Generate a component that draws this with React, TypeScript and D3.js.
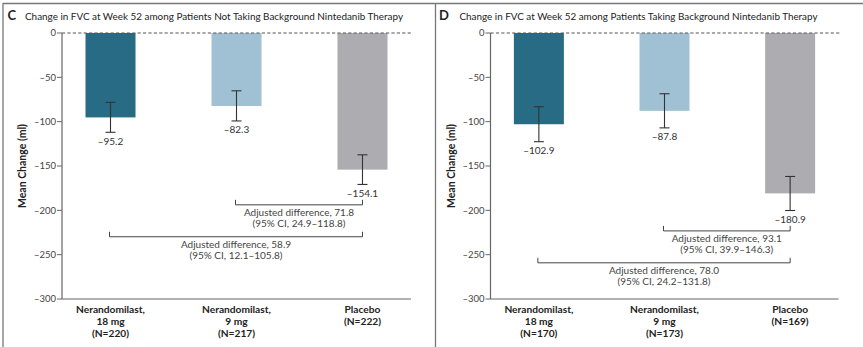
import React from "react";
import * as d3 from "d3";

// Treatment arms (shared by both panels)
const armNames = [["Nerandomilast,", "18 mg"], ["Nerandomilast,", "9 mg"], ["Placebo"]];
const armColors = ["#276b84", "#a0c1d3", "#adadb1"];

// Panel C: not taking background nintedanib
const nC = [220, 217, 222];
const meanC = [-95.2, -82.3, -154.1];
const ciLowC = [-112.0, -99.2, -170.8];
const ciHighC = [-78.2, -65.2, -137.4];
const diffC = [
  { from: 1, to: 2, est: "71.8", ci: "24.9–118.8" },
  { from: 0, to: 2, est: "58.9", ci: "12.1–105.8" },
];

// Panel D: taking background nintedanib
const nD = [170, 173, 169];
const meanD = [-102.9, -87.8, -180.9];
const ciLowD = [-122.6, -107.0, -200.2];
const ciHighD = [-83.2, -68.5, -161.8];
const diffD = [
  { from: 1, to: 2, est: "93.1", ci: "39.9–146.3" },
  { from: 0, to: 2, est: "78.0", ci: "24.2–131.8" },
];

const yTicks = [0, -50, -100, -150, -200, -250, -300];

const FONT = "Lato, 'Open Sans', 'Liberation Sans', sans-serif";
const dash = (v: number) => (v < 0 ? "–" + Math.abs(v) : String(v));
const fmt = (v: number) => (v < 0 ? "–" + Math.abs(v).toFixed(1) : v.toFixed(1));

type PanelProps = {
  letter: string;
  letterX: number;
  title: string;
  titleX: number;
  titleLen: number;
  x0: number;
  x1: number;
  n: number[];
  mean: number[];
  lo: number[];
  hi: number[];
  diffs: { from: number; to: number; est: string; ci: string }[];
};

function Panel({ letter, letterX, title, titleX, titleLen, x0, x1, n, mean, lo, hi, diffs }: PanelProps) {
  const y = d3.scaleLinear().domain([-300, 0]).range([299, 33]);
  const idx = mean.map((_, i) => String(i));
  const x = d3.scalePoint<string>().domain(idx).range([x0, x1]).padding(0.385);
  const barW = 50;
  const capW = 10;

  // bracket levels: first sits below the lower CI of the compared arms, second below that
  const firstLevel = Math.min(lo[diffs[0].from], lo[diffs[0].to]) - 23;
  const levels = [firstLevel, firstLevel - 36];

  return (
    <g fontFamily={FONT}>
      <text x={letterX} y={20} fontSize={13} fontWeight="bold" fill="#222">{letter}</text>
      <text x={titleX} y={20} fontSize={10.4} fill="#222" textLength={titleLen} lengthAdjust="spacingAndGlyphs">{title}</text>

      {/* bars */}
      {mean.map((m, i) => (
        <rect key={"b" + i} x={x(String(i))! - barW / 2} y={y(0)} width={barW} height={y(m) - y(0)} fill={armColors[i]} />
      ))}

      {/* zero reference line */}
      <line x1={x0} x2={x1 + 1} y1={y(0)} y2={y(0)} stroke="#555" strokeWidth={1} strokeDasharray="3.2,2.2" />

      {/* confidence intervals */}
      {mean.map((m, i) => {
        const cx = x(String(i))!;
        return (
          <g key={"e" + i} stroke="#333" strokeWidth={1.1}>
            <line x1={cx} x2={cx} y1={y(hi[i])} y2={y(lo[i])} />
            <line x1={cx - capW / 2} x2={cx + capW / 2} y1={y(hi[i])} y2={y(hi[i])} />
            <line x1={cx - capW / 2} x2={cx + capW / 2} y1={y(lo[i])} y2={y(lo[i])} />
          </g>
        );
      })}
      {mean.map((m, i) => (
        <text key={"v" + i} x={x(String(i))!} y={y(lo[i]) + 12.2} textAnchor="middle" fontSize={10} fill="#333">{fmt(m)}</text>
      ))}

      {/* adjusted difference brackets */}
      {diffs.map((d, k) => {
        const xa = x(String(d.from))! - 1;
        const xb = x(String(d.to))!;
        const yb = y(levels[k]);
        const mid = (xa + xb) / 2;
        return (
          <g key={"d" + k}>
            <path d={`M${xa},${yb - 5}V${yb}H${xb}V${yb - 5}`} fill="none" stroke="#444" strokeWidth={1} />
            <text x={mid} y={yb + 11} textAnchor="middle" fontSize={10} fill="#444">{`Adjusted difference, ${d.est}`}</text>
            <text x={mid} y={yb + 22} textAnchor="middle" fontSize={10} fill="#444">{`(95% CI, ${d.ci})`}</text>
          </g>
        );
      })}

      {/* axes */}
      <line x1={x0} x2={x0} y1={y(0)} y2={y(-300)} stroke="#666" strokeWidth={1.2} />
      <line x1={x0} x2={x1} y1={y(-300)} y2={y(-300)} stroke="#666" strokeWidth={1.2} />
      {yTicks.map((t) => (
        <g key={"t" + t}>
          <line x1={x0 - 5} x2={x0} y1={y(t)} y2={y(t)} stroke="#666" strokeWidth={1} />
          <text x={x0 - 6} y={y(t) + 3.4} textAnchor="end" fontSize={9.5} fill="#444">{dash(t)}</text>
        </g>
      ))}
      <text transform={`translate(${x0 - 36},${(y(0) + y(-300)) / 2}) rotate(-90)`} textAnchor="middle" fontSize={10.5} fontWeight="bold" fill="#222">Mean Change (ml)</text>

      {/* category labels */}
      {armNames.map((lines, i) => {
        const all = [...lines, `(N=${n[i]})`];
        return (
          <g key={"c" + i}>
            {all.map((s, j) => (
              <text key={j} x={x(String(i))!} y={313 + j * 12} textAnchor="middle" fontSize={10.2} fontWeight="bold" fill="#222">{s}</text>
            ))}
          </g>
        );
      })}
    </g>
  );
}

export default function App() {
  return (
    <svg width={863} height={347} style={{ position: "absolute", left: 0, top: 0, background: "#fff" }}>
      <rect width={863} height={347} fill="#fff" />
      {/* frame */}
      <line x1={3} x2={863} y1={3.5} y2={3.5} stroke="#777" strokeWidth={1.3} />
      <line x1={3} x2={3} y1={3} y2={347} stroke="#777" strokeWidth={1.3} />
      <line x1={435.5} x2={435.5} y1={3} y2={347} stroke="#777" strokeWidth={1.3} />

      <Panel
        letter="C"
        letterX={7.5}
        title="Change in FVC at Week 52 among Patients Not Taking Background Nintedanib Therapy"
        titleX={25}
        titleLen={378}
        x0={62}
        x1={411}
        n={nC}
        mean={meanC}
        lo={ciLowC}
        hi={ciHighC}
        diffs={diffC}
      />
      <Panel
        letter="D"
        letterX={439}
        title="Change in FVC at Week 52 among Patients Taking Background Nintedanib Therapy"
        titleX={459.5}
        titleLen={358}
        x0={490.5}
        x1={838.5}
        n={nD}
        mean={meanD}
        lo={ciLowD}
        hi={ciHighD}
        diffs={diffD}
      />
    </svg>
  );
}
